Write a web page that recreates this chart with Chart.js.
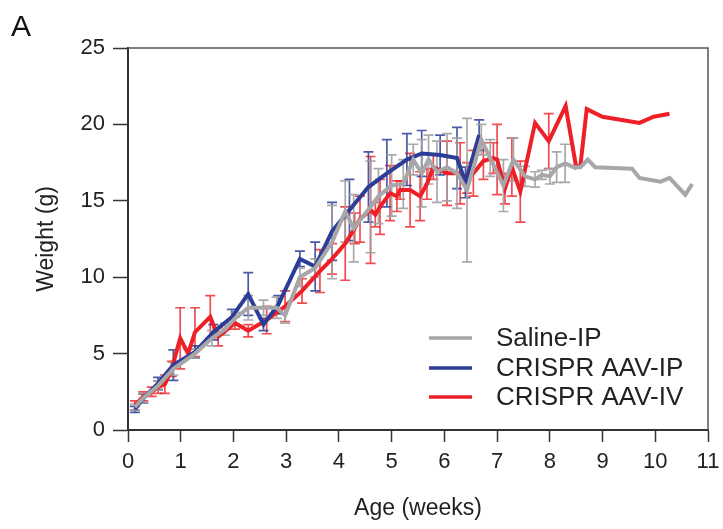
<!DOCTYPE html>
<html>
<head>
<meta charset="utf-8">
<script src="https://cdn.jsdelivr.net/npm/chart.js@4.4.1/dist/chart.umd.min.js"></script>
<style>
  html, body { margin: 0; padding: 0; background: #fff; }
  #wrap { position: relative; width: 723px; height: 529px; }
</style>
</head>
<body>
<div id="wrap"><canvas id="weightChart" width="723" height="529"></canvas></div>
<script>
/* data */
const salineWeeks  = [0.13, 0.29, 0.57, 0.86, 1.27, 1.59, 1.84, 2.03, 2.28, 2.57, 2.82, 2.98, 3.26, 3.55, 3.87, 4.12, 4.28, 4.6, 4.75, 5.0, 5.22, 5.41, 5.57, 5.7, 5.86, 6.05, 6.24, 6.43, 6.7, 6.87, 7.12, 7.31, 7.53, 7.72, 7.85, 8.0, 8.13, 8.29, 8.45, 8.58, 8.72, 8.86, 9.56, 9.7, 10.1, 10.27, 10.57, 10.7];
const salineWeight = [1.5, 2.1, 2.9, 4.0, 5.0, 6.0, 6.6, 7.3, 8.0, 8.0, 8.0, 7.5, 10.0, 10.6, 12.3, 14.3, 13.2, 14.6, 15.3, 16.0, 16.1, 17.7, 16.8, 17.7, 16.9, 17.2, 16.8, 15.7, 19.0, 17.8, 16.0, 17.7, 16.6, 16.4, 16.7, 16.6, 17.2, 17.45, 17.2, 17.2, 17.7, 17.2, 17.1, 16.5, 16.25, 16.5, 15.4, 16.1];
const salineSD     = [0.2, 0.3, 0.3, 0.4, 0.3, 0.5, 0.4, 0.4, 0.8, 0.5, 0.7, 0.5, 0.6, 0.6, 2.4, 2.0, 2.2, 3.0, 1.8, 2.0, 1.6, 1.0, 2.2, 1.6, 2.0, 2.2, 2.3, 4.7, 1.0, 1.2, 1.7, 1.4, 0.65, 0.5, 0.3, 0.5, 1.0, 1.25, 0, 0, 0, 0, 0, 0, 0, 0, 0, 0];

const ipWeeks  = [0.13, 0.29, 0.57, 0.86, 1.27, 1.62, 1.97, 2.28, 2.57, 2.85, 3.26, 3.55, 3.87, 4.2, 4.56, 4.91, 5.29, 5.57, 5.92, 6.24, 6.4, 6.66];
const ipWeight = [1.35, 2.07, 3.05, 4.25, 5.1, 6.4, 7.4, 8.9, 6.9, 8.2, 11.2, 10.7, 13.0, 14.4, 15.9, 16.8, 17.7, 18.1, 18.0, 17.8, 16.2, 19.3];
const ipSD     = [0.2, 0.3, 0.4, 1.0, 0.4, 0.5, 0.5, 1.4, 0.4, 0.6, 0.5, 1.6, 1.9, 2.0, 2.3, 2.2, 1.7, 1.5, 1.3, 2.0, 1.0, 1.0];

const ivWeeks  = [0.13, 0.29, 0.45, 0.57, 0.7, 0.83, 0.99, 1.14, 1.27, 1.56, 1.71, 2.03, 2.28, 2.63, 2.98, 3.3, 3.64, 3.87, 4.12, 4.3, 4.4, 4.6, 4.69, 4.78, 4.97, 5.1, 5.16, 5.35, 5.54, 5.67, 5.79, 6.05, 6.3, 6.43, 6.55, 6.74, 6.93, 7.0, 7.15, 7.28, 7.44, 7.72, 7.98, 8.3, 8.5, 8.58, 8.7, 9.0, 9.7, 9.97, 10.27];
const ivWeight = [1.6, 2.2, 2.5, 2.8, 3.0, 4.0, 6.0, 5.0, 6.4, 7.4, 6.1, 7.0, 6.5, 7.2, 8.1, 9.1, 10.4, 11.2, 12.2, 13.2, 13.8, 14.4, 14.1, 14.6, 15.5, 15.3, 15.7, 15.7, 15.3, 16.1, 17.2, 16.8, 16.8, 16.5, 16.8, 17.6, 17.8, 17.7, 15.8, 17.2, 15.6, 20.1, 18.9, 21.2, 17.2, 17.3, 21.0, 20.5, 20.1, 20.5, 20.7];
const ivSD     = [0.3, 0.3, 0.3, 0.4, 0.6, 0.5, 2.0, 0.3, 1.6, 1.4, 0.6, 0.4, 0.4, 0.9, 1.0, 0.8, 1.4, 1.0, 2.4, 1.0, 1.5, 3.5, 0.8, 1.8, 1.8, 1.0, 0.6, 2.4, 1.6, 1.0, 0.8, 2.1, 2.0, 1.0, 1.5, 1.2, 1.0, 2.3, 1.0, 1.9, 2.0, 0, 1.8, 0, 0, 0, 0, 0, 0, 0, 0];

const xTicks = [0, 1, 2, 3, 4, 5, 6, 7, 8, 9, 10, 11];
const yTicks = [0, 5, 10, 15, 20, 25];

const seriesNames  = ['Saline-IP', 'CRISPR AAV-IP', 'CRISPR AAV-IV'];
const seriesColors = ['#a7a7a9', '#2c3d98', '#ee1f26'];
const barColors    = ['rgba(160,160,163,0.9)', 'rgba(44,61,152,0.85)', 'rgba(238,31,38,0.8)'];

function toPoints(xs, ys) {
    return xs.map((x, i) => ({ x: x, y: ys[i] }));
}

const FONT = '"Liberation Sans", Arial, sans-serif';

/* error bars under the lines + box, panel letter, legend */
const errorBars = {
    id: 'errorBars',
    beforeDatasetsDraw(chart) {
        const ctx = chart.ctx;
        const xs = chart.scales.x, ys = chart.scales.y;
        const sds = [salineSD, ipSD, ivSD];
        ctx.save();
        ctx.lineWidth = 1.7;
        for (let d = chart.data.datasets.length - 1; d >= 0; d--) {
            const pts = chart.data.datasets[d].data;
            ctx.strokeStyle = barColors[d];
            pts.forEach((p, i) => {
                const sd = sds[d][i];
                if (!sd) return;
                const px = xs.getPixelForValue(p.x);
                const top = ys.getPixelForValue(p.y + sd);
                const bot = ys.getPixelForValue(p.y - sd);
                ctx.beginPath();
                ctx.moveTo(px, top); ctx.lineTo(px, bot);
                ctx.moveTo(px - 5, top); ctx.lineTo(px + 5, top);
                ctx.moveTo(px - 5, bot); ctx.lineTo(px + 5, bot);
                ctx.stroke();
            });
        }
        ctx.restore();
    },
    afterDraw(chart) {
        const ctx = chart.ctx;
        const a = chart.chartArea;
        ctx.save();
        ctx.strokeStyle = '#555';
        ctx.lineWidth = 1.5;
        ctx.beginPath();
        ctx.moveTo(a.left, a.top); ctx.lineTo(a.right, a.top); ctx.lineTo(a.right, a.bottom);
        ctx.stroke();

        ctx.fillStyle = '#111';
        ctx.font = '30px ' + FONT;
        ctx.textBaseline = 'alphabetic';
        ctx.fillText('A', 11, 36);

        ctx.font = '26px ' + FONT;
        ctx.textBaseline = 'middle';
        const rows = [338, 368, 397];
        chart.data.datasets.forEach((ds, i) => {
            ctx.strokeStyle = ds.borderColor;
            ctx.lineWidth = 3.5;
            ctx.beginPath();
            ctx.moveTo(429, rows[i]); ctx.lineTo(472, rows[i]);
            ctx.stroke();
            ctx.fillStyle = '#222';
            ctx.fillText(ds.label, 496, rows[i] + 1);
        });
        ctx.restore();
    }
};

new Chart(document.getElementById('weightChart'), {
    type: 'line',
    data: {
        datasets: [
            { label: seriesNames[0], data: toPoints(salineWeeks, salineWeight), borderColor: seriesColors[0] },
            { label: seriesNames[1], data: toPoints(ipWeeks, ipWeight), borderColor: seriesColors[1] },
            { label: seriesNames[2], data: toPoints(ivWeeks, ivWeight), borderColor: seriesColors[2] }
        ]
    },
    options: {
        responsive: false,
        animation: false,
        layout: { padding: { left: 0, right: 15, top: 48, bottom: 0 } },
        elements: {
            line: { borderWidth: 4, tension: 0, borderJoinStyle: 'miter', fill: false },
            point: { radius: 0, hoverRadius: 0 }
        },
        plugins: {
            legend: { display: false },
            tooltip: { enabled: false }
        },
        scales: {
            x: {
                type: 'linear',
                min: 0, max: 11,
                afterBuildTicks: (s) => { s.ticks = xTicks.map(v => ({ value: v })); },
                afterFit: (s) => { s.height = 99; s.paddingRight = 0; s.paddingLeft = 0; },
                grid: { display: true, drawOnChartArea: false, drawTicks: true, tickLength: 12, color: '#333', tickWidth: 1.5 },
                border: { display: true, color: '#333', width: 2 },
                ticks: { color: '#222', font: { family: FONT, size: 22 }, padding: 7, maxRotation: 0, autoSkip: false },
                title: { display: true, text: 'Age (weeks)', color: '#222', font: { family: FONT, size: 23 }, padding: { top: 0, bottom: 7 } }
            },
            y: {
                min: 0, max: 25,
                afterBuildTicks: (s) => { s.ticks = yTicks.map(v => ({ value: v })); },
                afterFit: (s) => { s.width = 128; s.paddingTop = 0; s.paddingBottom = 0; },
                grid: { display: true, drawOnChartArea: false, drawTicks: true, tickLength: 15, color: '#333', tickWidth: 1.5 },
                border: { display: true, color: '#333', width: 2 },
                ticks: { color: '#222', font: { family: FONT, size: 22 }, padding: 8 },
                title: { display: true, text: 'Weight (g)', color: '#222', font: { family: FONT, size: 23 }, padding: { top: 33, bottom: 0 } }
            }
        }
    },
    plugins: [errorBars]
});
</script>
</body>
</html>
